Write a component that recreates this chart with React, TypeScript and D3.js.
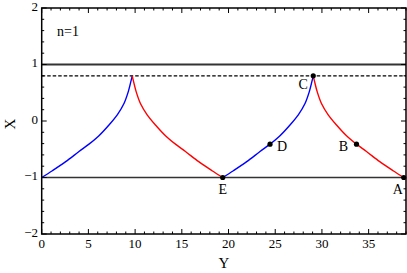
import React from "react";
import * as d3 from "d3";

const blue1Y = [0, 1.14, 2.57, 3.99, 5.06, 6.13, 7.2, 8.09, 8.81, 9.27, 9.55, 9.69];
const blue1X = [-1, -0.88, -0.72, -0.54, -0.41, -0.26, -0.07, 0.11, 0.31, 0.52, 0.7, 0.8];
const red1Y = [9.69, 9.83, 10.11, 10.57, 11.29, 12.18, 13.25, 14.32, 15.39, 16.81, 18.24, 19.38];
const red1X = [0.8, 0.7, 0.52, 0.31, 0.11, -0.07, -0.26, -0.41, -0.54, -0.72, -0.88, -1];
const blue2Y = [19.38, 20.52, 21.95, 23.37, 24.44, 25.51, 26.58, 27.47, 28.19, 28.65, 28.93, 29.07];
const blue2X = [-1, -0.88, -0.72, -0.54, -0.41, -0.26, -0.07, 0.11, 0.31, 0.52, 0.7, 0.8];
const red2Y = [29.07, 29.21, 29.49, 29.95, 30.67, 31.56, 32.63, 33.7, 34.77, 36.19, 37.62, 38.76];
const red2X = [0.8, 0.7, 0.52, 0.31, 0.11, -0.07, -0.26, -0.41, -0.54, -0.72, -0.88, -1];

const pointNames = ["A", "B", "C", "D", "E"];
const pointY = [38.76, 33.7, 29.07, 24.44, 19.38];
const pointX = [-1, -0.41, 0.8, -0.41, -1];

const xTicks = [0, 5, 10, 15, 20, 25, 30, 35];
const yTicks = [-2, -1, 0, 1, 2];

export default function App() {
  const W = 407, H = 273;
  const L = 41.7, R = 406, T = 8, B = 234;
  const x = d3.scaleLinear().domain([0, 39]).range([L, R]);
  const y = d3.scaleLinear().domain([-2, 2]).range([B, T]);
  const line = d3
    .line<[number, number]>()
    .x((d) => x(d[0]))
    .y((d) => y(d[1]))
    .curve(d3.curveCatmullRom.alpha(0.5));
  const mk = (ys: number[], xs: number[]) => ys.map((v, i) => [v, xs[i]] as [number, number]);
  const font = "'Liberation Serif', 'DejaVu Serif', serif";
  const minorX = d3.range(0, 39.01, 1);
  const minorY = d3.range(-2, 2.001, 0.2);
  const labelOff: Record<string, [number, number]> = {
    A: [-6, 13],
    B: [-13, 4],
    C: [-10, 10],
    D: [12, 4],
    E: [0, 13],
  };
  return (
    <svg width={W} height={H} style={{ position: "absolute", left: 0, top: 0 }}>
      <rect width={W} height={H} fill="#fff" />
      {/* reference lines */}
      <line x1={L} x2={R} y1={y(1)} y2={y(1)} stroke="#333" strokeWidth={2} />
      <line x1={L} x2={R} y1={y(-1)} y2={y(-1)} stroke="#333" strokeWidth={1.6} />
      <line x1={L} x2={R} y1={y(0.8)} y2={y(0.8)} stroke="#000" strokeWidth={1.2} strokeDasharray="3.5,2" />
      {/* curves */}
      <path d={line(mk(blue1Y, blue1X)) || ""} fill="none" stroke="#0000ff" strokeWidth={1.4} />
      <path d={line(mk(red1Y, red1X)) || ""} fill="none" stroke="#ff0000" strokeWidth={1.4} />
      <path d={line(mk(blue2Y, blue2X)) || ""} fill="none" stroke="#0000ff" strokeWidth={1.4} />
      <path d={line(mk(red2Y, red2X)) || ""} fill="none" stroke="#ff0000" strokeWidth={1.4} />
      {/* points */}
      {pointNames.map((n, i) => (
        <g key={n}>
          <circle cx={x(pointY[i])} cy={y(pointX[i])} r={2.6} fill="#000" />
          <text
            x={x(pointY[i]) + labelOff[n][0]}
            y={y(pointX[i]) + labelOff[n][1]}
            fontFamily={font}
            fontSize={14}
            textAnchor="middle"
            dominantBaseline="middle"
          >
            {n}
          </text>
        </g>
      ))}
      {/* frame */}
      <rect x={L} y={T} width={R - L} height={B - T} fill="none" stroke="#000" strokeWidth={1.5} />
      {/* ticks */}
      {minorX.map((v) => {
        const len = v % 5 === 0 ? 5 : 2.5;
        return (
          <g key={"mx" + v}>
            <line x1={x(v)} x2={x(v)} y1={B} y2={B - len} stroke="#000" strokeWidth={1} />
            <line x1={x(v)} x2={x(v)} y1={T} y2={T + len} stroke="#000" strokeWidth={1} />
          </g>
        );
      })}
      {minorY.map((v, i) => {
        const len = i % 5 === 0 ? 5 : 2.5;
        return (
          <g key={"my" + i}>
            <line x1={L} x2={L + len} y1={y(v)} y2={y(v)} stroke="#000" strokeWidth={1} />
            <line x1={R} x2={R - len} y1={y(v)} y2={y(v)} stroke="#000" strokeWidth={1} />
          </g>
        );
      })}
      {/* tick labels */}
      {xTicks.map((v) => (
        <text key={"xt" + v} x={x(v)} y={248} fontFamily={font} fontSize={13} textAnchor="middle">
          {v}
        </text>
      ))}
      {yTicks.map((v) => (
        <text
          key={"yt" + v}
          x={38}
          y={y(v)}
          fontFamily={font}
          fontSize={13}
          textAnchor="end"
          dominantBaseline="middle"
        >
          {v < 0 ? "\u2212" + Math.abs(v) : v}
        </text>
      ))}
      {/* axis titles */}
      <text x={224} y={268} fontFamily={font} fontSize={15} textAnchor="middle">
        Y
      </text>
      <text
        x={12}
        y={124}
        fontFamily={font}
        fontSize={15}
        textAnchor="middle"
        transform="rotate(-90 12 124)"
        dominantBaseline="middle"
      >
        X
      </text>
      <text x={57} y={36} fontFamily={font} fontSize={14}>
        n=1
      </text>
    </svg>
  );
}
